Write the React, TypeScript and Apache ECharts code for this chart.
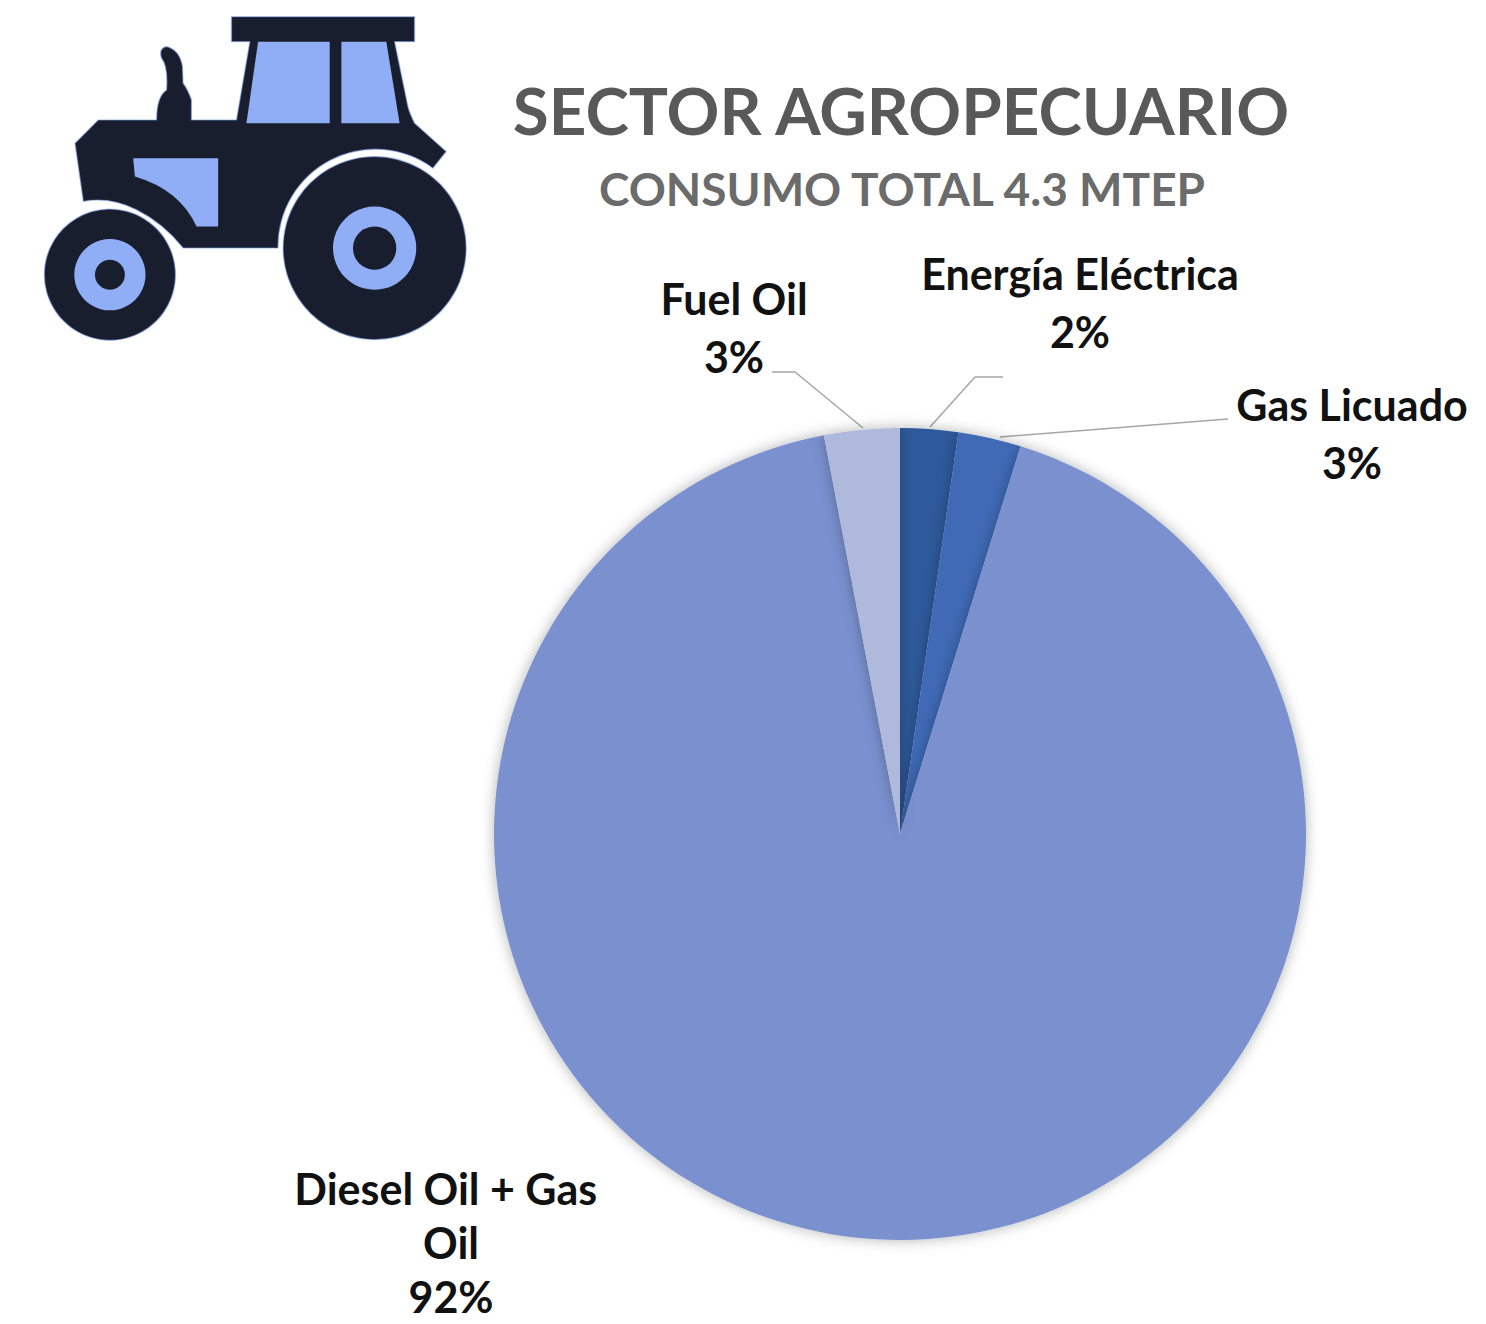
import React, { useEffect, useRef } from "react";
import * as echarts from "echarts";

const categories = ["Energía Eléctrica", "Gas Licuado", "Diesel Oil + Gas Oil", "Fuel Oil"];
const values = [2.3, 2.5, 92.2, 3.0];
const shownPercents = ["2%", "3%", "92%", "3%"];
const sliceColors = ["#2F5A9C", "#3F6AB6", "#7A90CF", "#AEB9DC"];
const titleText = "SECTOR AGROPECUARIO";
const subtitleText = "CONSUMO TOTAL 4.3 MTEP";

const FONT = "Lato, Carlito, 'Open Sans', sans-serif";
const DARK = "#191E2E";
const PALE = "#8FAEF6";

const labelSpots: any[] = [
  { x: 1080, y: 302, width: 400, lineHeight: 58, line: [[1003, 377], [975, 377], [930, 427]] },
  { x: 1352, y: 433, width: 400, lineHeight: 58, line: [[1228, 419], [1000, 437], [1000, 437]] },
  { x: 451, y: 1242, width: 330, lineHeight: 54, line: null },
  { x: 734, y: 327, width: 400, lineHeight: 58, line: [[772, 372], [795, 372], [863, 428]] },
];

echarts.graphic.registerShape(
  "tractorBody",
  echarts.graphic.extendPath(
    "M235 360 L165 430 L190 605 Q270 590 350 630 Q430 670 490 745 L775 745 A292 292 0 0 1 1240 505 L1280 455 L1185 370 Q1170 340 1165 320 L1125 125 L1185 125 L1185 50 L635 50 L635 125 L690 125 L650 360 L515 360 L515 300 Q505 270 490 250 L488 200 Q480 150 440 140 Q415 145 425 175 Q445 200 440 270 Q410 290 410 360 Z",
    {}
  )
);
echarts.graphic.registerShape(
  "tractorPanel",
  echarts.graphic.extendPath("M340 475 L595 475 L595 680 L530 680 Q480 570 345 530 Z", {})
);

export default function App() {
  const ref = useRef<HTMLDivElement>(null);
  useEffect(() => {
    const chart = echarts.init(ref.current!, undefined, { renderer: "svg" });
    const paleStyle = { fill: PALE };
    const edge = { stroke: "rgba(143,174,246,0.55)", lineWidth: 4 };
    chart.setOption({
      animation: false,
      backgroundColor: "#fff",
      title: [
        {
          text: titleText, left: 896, top: 104, textAlign: "center", textVerticalAlign: "middle",
          textStyle: { fontFamily: FONT, fontSize: 65.5, fontWeight: 700, color: "#595959" },
        },
        {
          text: subtitleText, left: 897, top: 183, textAlign: "center", textVerticalAlign: "middle",
          textStyle: { fontFamily: FONT, fontSize: 46, fontWeight: 700, color: "#6B6B6B" },
        },
      ],
      graphic: [
        {
          type: "group", x: 20, y: 0, scaleX: 1 / 3, scaleY: 1 / 3, silent: true,
          children: [
            { type: "tractorBody", style: { fill: DARK, ...edge } },
            { type: "polygon", shape: { points: [[715, 125], [930, 125], [930, 370], [680, 370]] }, style: paleStyle },
            { type: "polygon", shape: { points: [[965, 125], [1100, 125], [1140, 370], [965, 370]] }, style: paleStyle },
            { type: "tractorPanel", style: paleStyle },
            { type: "circle", shape: { cx: 1065, cy: 745, r: 275 }, style: { fill: DARK, ...edge } },
            { type: "circle", shape: { cx: 1065, cy: 745, r: 125 }, style: paleStyle },
            { type: "circle", shape: { cx: 1065, cy: 745, r: 65 }, style: { fill: DARK } },
            { type: "circle", shape: { cx: 270, cy: 825, r: 197 }, style: { fill: DARK, ...edge } },
            { type: "circle", shape: { cx: 270, cy: 825, r: 107 }, style: paleStyle },
            { type: "circle", shape: { cx: 270, cy: 825, r: 45 }, style: { fill: DARK } },
          ],
        },
      ],
      series: [
        {
          type: "pie",
          center: [900, 834],
          radius: [0, 406],
          startAngle: 90,
          clockwise: true,
          silent: true,
          avoidLabelOverlap: false,
          data: categories.map((name, i) => ({
            name,
            value: values[i],
            itemStyle: { color: sliceColors[i] },
            labelLine: { show: labelSpots[i].line !== null },
            label: { width: labelSpots[i].width, lineHeight: labelSpots[i].lineHeight },
          })),
          itemStyle: { shadowBlur: 14, shadowColor: "rgba(0,0,0,0.3)" },
          label: {
            show: true,
            position: "outside",
            formatter: (p: any) => `${p.name}\n${shownPercents[p.dataIndex]}`,
            fontFamily: FONT,
            fontSize: 43,
            fontWeight: 700,
            color: "#111",
            align: "center",
            verticalAlign: "middle",
            overflow: "break",
          },
          labelLine: { show: true, lineStyle: { color: "#A6A6A6", width: 1.5 } },
          labelLayout: (p: any) => {
            const s = labelSpots[p.dataIndex];
            return { x: s.x, y: s.y, align: "center", verticalAlign: "middle", hideOverlap: false, ...(s.line ? { labelLinePoints: s.line } : {}) };
          },
        },
      ],
    });
    return () => chart.dispose();
  }, []);
  return <div ref={ref} style={{ position: "absolute", left: 0, top: 0, width: 1486, height: 1324 }} />;
}
